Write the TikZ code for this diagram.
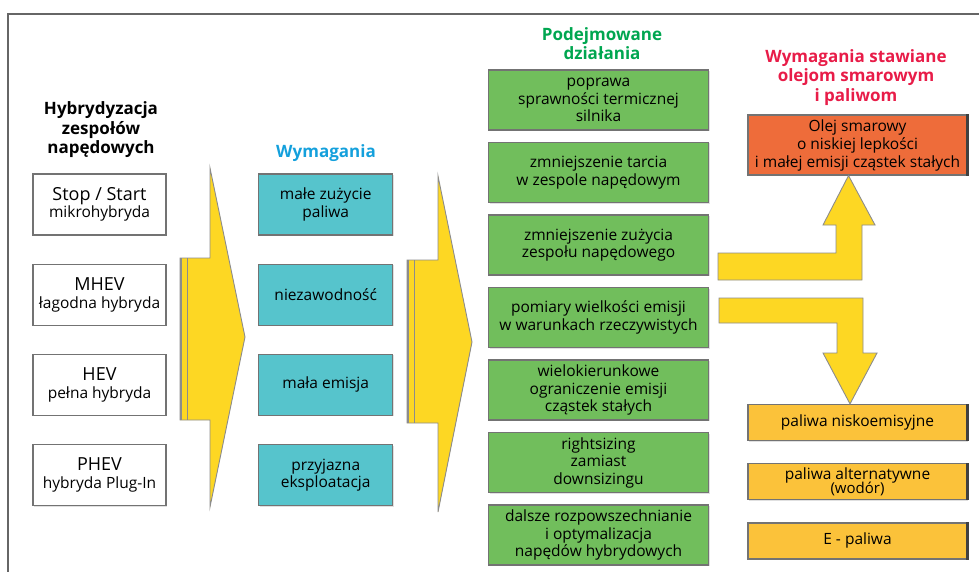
\documentclass[tikz,border=0pt]{standalone}
\usepackage{fontspec}
\setmainfont{Open Sans}
\usepackage{xcolor}
\usepackage{tikz}
\usetikzlibrary{positioning, calc, shadows}
\definecolor{arryellow}{RGB}{253,215,35}
\definecolor{boxteal}{RGB}{86,196,204}
\definecolor{boxgreen}{RGB}{113,190,92}
\definecolor{boxorange}{RGB}{238,108,58}
\definecolor{boxgold}{RGB}{251,194,58}
\definecolor{titleblue}{RGB}{20,160,220}
\definecolor{titlegreen}{RGB}{0,166,80}
\definecolor{titlered}{RGB}{232,28,72}
\newcommand{\smalltxt}[1]{{\fontsize{15}{15}\selectfont #1}}
\tikzset{
  block/.style={rectangle, draw=black!55, line width=1.2pt, fill=white,
                align=center, inner sep=0pt, minimum width=133pt,
                minimum height=61pt, font=\fontsize{15.5}{17.5}\selectfont,
                drop shadow={shadow xshift=1pt, shadow yshift=-1pt,
                             fill=black!20, opacity=0.6}},
  blockteal/.style={block, fill=boxteal, minimum width=134pt},
  blockgreen/.style={block, fill=boxgreen, minimum width=220pt,
                     minimum height=60pt},
  blockorange/.style={block, fill=boxorange, minimum width=219pt,
                      minimum height=60pt,
                      font=\fontsize{15.5}{18}\selectfont},
  blockgold/.style={block, fill=boxgold, minimum width=219pt,
                    minimum height=36pt,
                    font=\fontsize{15.5}{17}\selectfont},
  heading/.style={align=center, inner sep=0pt,
                  font=\fontsize{17}{19.5}\selectfont\bfseries},
  bigarrow/.style={fill=arryellow, draw=black!45, line width=0.9pt,
                   line join=miter},
}
\begin{document}
\begin{tikzpicture}[x=1pt, y=-1pt]
  \useasboundingbox (0,0) rectangle (979,572);
  % frame
  \draw[black!60, line width=1.4pt] (8,572) |- (979,14);

  % headings
  \node[heading] (hyb) at (101,130)
    {Hybrydyzacja\\zespołów\\napędowych};
  \node[heading, text=titleblue] (req) at (326,153) {Wymagania};
  \node[heading, text=titlegreen] (act) at (602,43.5)
    {Podejmowane\\działania};
  \node[heading, text=titlered] (oilreq) at (856,77.5)
    {Wymagania stawiane\\olejom smarowym\\i paliwom};

  % hybrid types (left column)
  \node[block] (ss) at (99.5,204.5)
    {{\fontsize{18}{19}\selectfont Stop / Start}\\mikrohybryda};
  \node[block, below=28pt of ss] (mhev)
    {{\fontsize{18}{19}\selectfont MHEV}\\łagodna hybryda};
  \node[block, below=28pt of mhev] (hev)
    {{\fontsize{18}{19}\selectfont HEV}\\pełna hybryda};
  \node[block, below=28pt of hev] (phev)
    {{\fontsize{18}{19}\selectfont PHEV}\\hybryda Plug-In};

  % requirements
  \node[blockteal, right=91.5pt of ss] (fuel) {małe zużycie\\paliwa};
  \node[blockteal, below=28pt of fuel] (rel) {niezawodność};
  \node[blockteal, below=28pt of rel] (emis) {mała emisja};
  \node[blockteal, below=28pt of emis] (use) {przyjazna\\eksploatacja};

  % actions
  \node[blockgreen] (a1) at (598.5,100)
    {poprawa\\sprawności termicznej\\silnika};
  \node[blockgreen, below=11.3pt of a1] (a2)
    {zmniejszenie tarcia\\w zespole napędowym};
  \node[blockgreen, below=11.3pt of a2] (a3)
    {zmniejszenie zużycia\\zespołu napędowego};
  \node[blockgreen, below=11.3pt of a3] (a4)
    {pomiary wielkości emisji\\w warunkach rzeczywistych};
  \node[blockgreen, below=11.3pt of a4] (a5)
    {wielokierunkowe\\ograniczenie emisji\\cząstek stałych};
  \node[blockgreen, below=11.3pt of a5] (a6)
    {rightsizing\\zamiast\\downsizingu};
  \node[blockgreen, below=11.3pt of a6] (a7)
    {dalsze rozpowszechnianie\\i optymalizacja\\napędów hybrydowych};

  % oil and fuels
  \node[blockorange] (oil) at (857.5,145)
    {Olej smarowy\\o niskiej lepkości\\i małej emisji cząstek stałych};
  \node[blockgold] (f1) at (857.5,422.5) {paliwa niskoemisyjne};
  \node[blockgold, below=22pt of f1] (f2)
    {paliwa alternatywne\\[-3pt]\smalltxt{(wodór)}};
  \node[blockgold, below=22pt of f2] (f3) {E - paliwa};
  \foreach \n in {oil,f1,f2,f3}
    \draw[black!75, line width=2.5pt] (\n.north east) -- (\n.south east);

  % big arrows
  \draw[bigarrow] (180,258) -- (210,258) -- (210,168) -- (245,337)
    -- (210,507) -- (210,420) -- (180,420) -- cycle;
  \draw[black!45, line width=0.9pt] (187,258) -- (187,420);
  \draw[black!45, line width=2pt] (181,258) -- (181,420);

  \draw[bigarrow] (407,260) -- (438,260) -- (438,176) -- (472,342)
    -- (438,512) -- (438,423) -- (407,423) -- cycle;
  \draw[black!45, line width=0.9pt] (414,260) -- (414,423);
  \draw[black!45, line width=2pt] (408,260) -- (408,423);

  % bent arrows to oil and fuels
  \draw[bigarrow] (718,280) -- (862,280) -- (862,225) -- (875,225)
    -- (oil.south -| 848.5,0) -- (823,225) -- (836,225) -- (836,253)
    -- (718,253) -- cycle;
  \draw[bigarrow] (719,298) -- (863,298) -- (863,353) -- (877,353)
    -- (f1.north -| 850,0) -- (823,353) -- (837,353) -- (837,323)
    -- (719,323) -- cycle;
\end{tikzpicture}
\end{document}
